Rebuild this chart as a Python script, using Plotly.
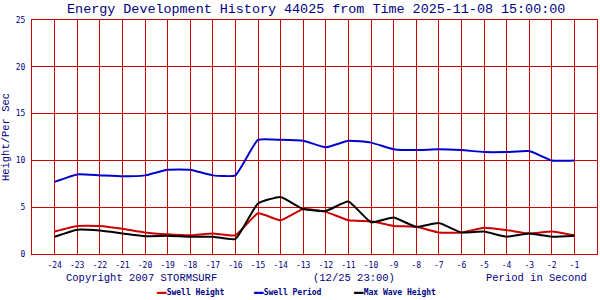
import plotly.graph_objects as go

x_vals = [-24, -23, -22, -21, -20, -19, -18, -17, -16, -15, -14, -13, -12,
          -11, -10, -9, -8, -7, -6, -5, -4, -3, -2, -1]
swell_height = [2.4, 3.0, 3.0, 2.7, 2.3, 2.1, 2.0, 2.2, 2.0, 4.35, 3.6, 4.8, 4.5,
                3.6, 3.5, 3.0, 2.9, 2.3, 2.3, 2.8, 2.55, 2.2, 2.4, 2.0]
swell_period = [7.7, 8.5, 8.4, 8.3, 8.4, 9.0, 9.0, 8.4, 8.4, 12.2, 12.2, 12.1, 11.4,
                12.1, 11.9, 11.2, 11.1, 11.2, 11.1, 10.9, 10.9, 11.0, 10.0, 10.0]
max_wave = [1.85, 2.6, 2.5, 2.2, 1.9, 1.95, 1.85, 1.85, 1.6, 5.4, 6.1, 4.8, 4.6,
            5.6, 3.4, 3.9, 2.9, 3.3, 2.3, 2.4, 1.85, 2.2, 1.85, 1.95]

series_names = ["Swell Height", "Swell Period", "Max Wave Height"]
series_colors = ["#cc0000", "#0000cc", "#000000"]
series_values = [swell_height, swell_period, max_wave]

x_ticks = list(range(-24, 0))
y_ticks = [0, 5, 10, 15, 20, 25]

NAVY = "#000080"
GRID = "#cc0000"
MONO = "DejaVu Sans Mono"
THIN = "Liberation Mono"

fig = go.Figure()
for name, color, vals in zip(series_names, series_colors, series_values):
    fig.add_trace(go.Scatter(x=x_vals, y=vals, mode="lines", name=name,
                             line=dict(color=color, width=2, shape="spline", smoothing=0.4),
                             showlegend=False))

fig.update_layout(
    width=600, height=300,
    margin=dict(l=31, r=2, t=20, b=46),
    paper_bgcolor="white", plot_bgcolor="white",
    title=dict(text="Energy Development History 44025 from Time 2025-11-08 15:00:00",
               x=0.527, xanchor="center", y=0.972, yanchor="middle",
               font=dict(family=THIN, size=13.4, color=NAVY)),
    xaxis=dict(range=[-25, 0], tickmode="array", tickvals=x_ticks,
               ticktext=[str(v) for v in x_ticks],
               showgrid=True, gridcolor=GRID, gridwidth=1,
               showline=True, linecolor=GRID, linewidth=1, mirror=True,
               zeroline=False, ticks="", ticklabelstandoff=3,
               tickfont=dict(family=MONO, size=8, color=NAVY)),
    yaxis=dict(range=[0, 25], tickmode="array", tickvals=y_ticks,
               ticktext=[str(v) for v in y_ticks],
               showgrid=True, gridcolor=GRID, gridwidth=1,
               showline=True, linecolor=GRID, linewidth=1, mirror=True,
               zeroline=False, ticks="", ticklabelstandoff=4,
               tickfont=dict(family=MONO, size=8, color=NAVY),
               title=dict(text="Height/Per Sec", standoff=6,
                          font=dict(family=THIN, size=10.5, color=NAVY))),
)

# bottom text row
row_y = -(278 - 254) / 234
for txt, cx in [("Copyright 2007 STORMSURF", 141), ("(12/25 23:00)", 354),
                ("Period in Second", 537)]:
    fig.add_annotation(text=txt, xref="paper", yref="paper",
                       x=(cx - 31) / 567, y=row_y, xanchor="center", yanchor="middle",
                       showarrow=False, font=dict(family=THIN, size=10.5, color=NAVY))

# legend row
legend_x = [154, 252, 352]
for name, color, lx in zip(series_names, series_colors, legend_x):
    fig.add_annotation(
        text=f"<span style='color:{color}'>▬▬</span><b>{name}</b>",
        xref="paper", yref="paper",
        x=(lx - 31) / 567, y=-(292 - 254) / 234, xanchor="left", yanchor="middle",
        showarrow=False, font=dict(family=MONO, size=8, color=NAVY))

fig.write_html("out.html")
